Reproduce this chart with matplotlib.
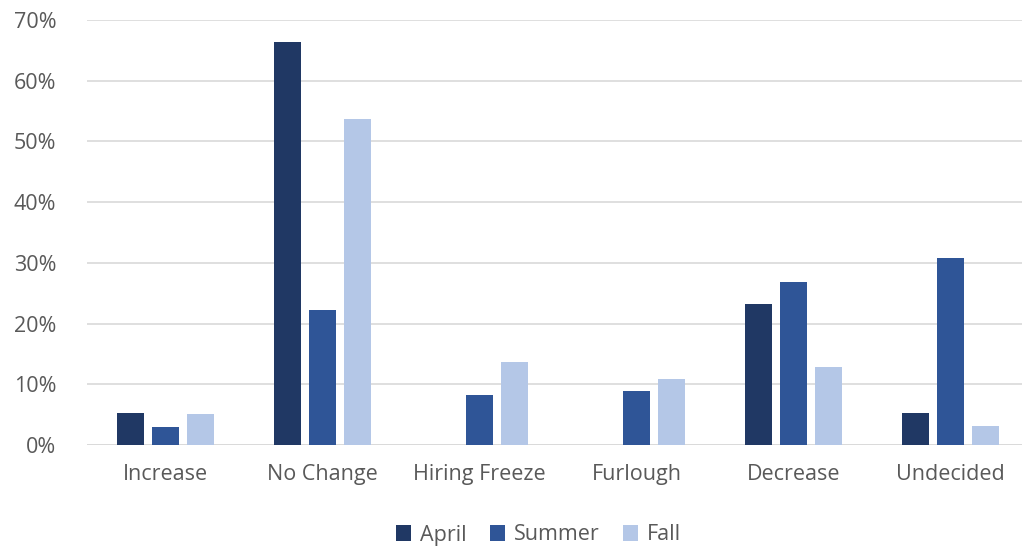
import numpy as np
import matplotlib.pyplot as plt
from matplotlib.ticker import PercentFormatter

categories = ['Increase', 'No Change', 'Hiring Freeze', 'Furlough', 'Decrease', 'Undecided']
april = [5.3, 66.4, 0, 0, 23.2, 5.3]
summer = [3.0, 22.2, 8.2, 8.9, 26.9, 30.8]
fall = [5.1, 53.7, 13.7, 10.9, 12.9, 3.2]
series = ['April', 'Summer', 'Fall']
colors = ['#203864', '#2F5597', '#B4C7E7']

plt.rcParams['font.family'] = ['Open Sans', 'DejaVu Sans']

fig = plt.figure(figsize=(10.22, 5.46), dpi=100)
ax = fig.add_axes([87 / 1022, 1 - 445 / 546, 942 / 1022, 425 / 546])

x = np.arange(len(categories))
width = 0.178
step = 0.223
for i, (vals, name, c) in enumerate(zip([april, summer, fall], series, colors)):
    ax.bar(x + (i - 1) * step, vals, width, color=c, label=name, zorder=3)

ax.set_xlim(-0.5, len(categories) - 0.5)
ax.set_ylim(0, 70)
ax.set_yticks(np.arange(0, 71, 10))
ax.yaxis.set_major_formatter(PercentFormatter(decimals=0))
ax.set_xticks(x)
ax.set_xticklabels(categories)
ax.grid(axis='y', color='#D9D9D9', linewidth=1.2, zorder=0)
for s in ['top', 'right', 'left', 'bottom']:
    ax.spines[s].set_visible(False)
ax.axhline(0, color='#D9D9D9', linewidth=1.2, zorder=2)
ax.tick_params(axis='both', length=0, labelsize=15.5, labelcolor='#595959')
ax.tick_params(axis='y', pad=22)
ax.tick_params(axis='x', pad=14)

fig.legend(loc='center', bbox_to_anchor=(0.527, 1 - 535 / 546), ncol=3, frameon=False,
           fontsize=15.5, labelcolor='#595959', handlelength=0.7, handleheight=0.7,
           handletextpad=0.4, columnspacing=1.1)

fig.savefig('out.png', dpi=100)
